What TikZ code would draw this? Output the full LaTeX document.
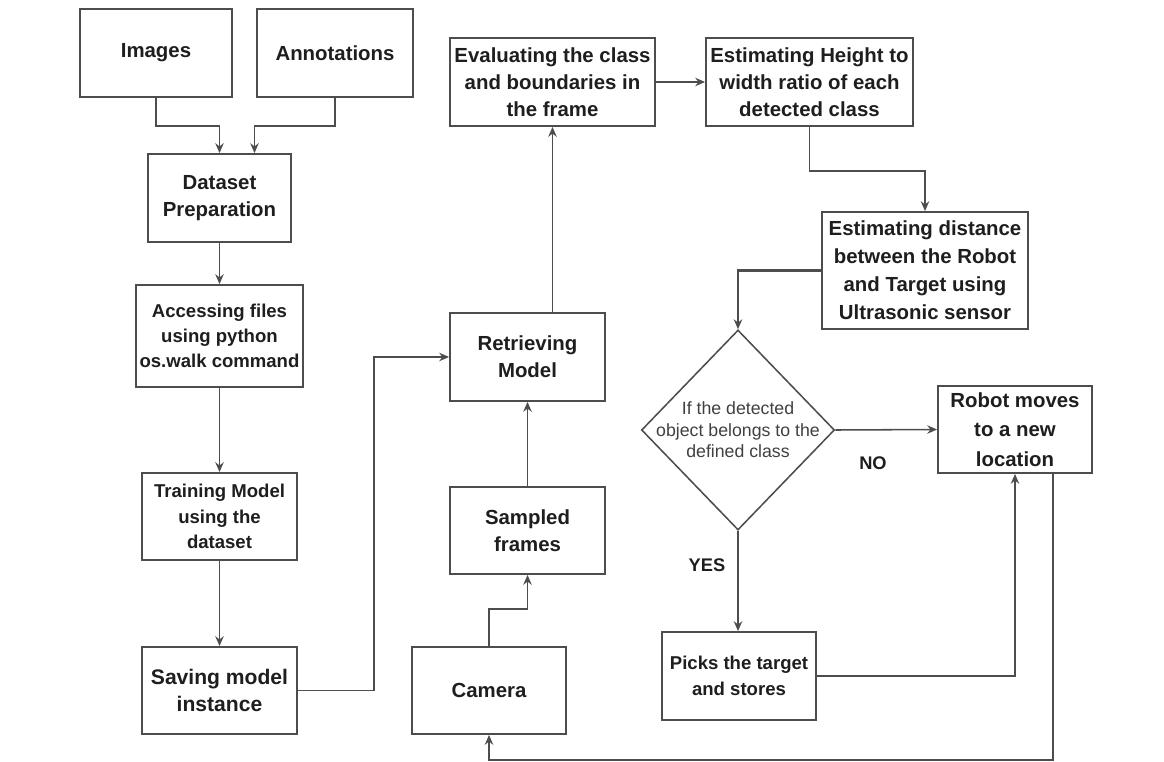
\documentclass[tikz,border=0pt]{standalone}
\usepackage{fontspec}
\setmainfont{Liberation Sans}
\usetikzlibrary{arrows.meta,calc,shapes.geometric}
\definecolor{linegray}{HTML}{4D4D4D}
\definecolor{textgray}{HTML}{1E1E1E}
\tikzset{
	stepbox/.style={draw=linegray, line width=1.3pt, fill=white, inner sep=0pt, align=center, text=textgray, font=\bfseries\fontsize{14.5}{19}\selectfont},
	smallbox/.style={stepbox, font=\bfseries\fontsize{13.2}{18}\selectfont},
	decide/.style={diamond, draw=linegray, line width=1.1pt, inner sep=0pt, minimum width=4.825cm, minimum height=5cm},
	decidetext/.style={align=center, text=black!75, font=\fontsize{12.6}{15.4}\selectfont},
	flow/.style={draw=linegray, line width=1.1pt, -{Stealth[length=7pt,width=6pt]}},
	heavyflow/.style={flow, line width=1.8pt},
	answer/.style={text=textgray, font=\bfseries\fontsize{13}{15}\selectfont}
}

\begin{document}
\begin{tikzpicture}[x=0.025cm, y=-0.025cm]
		%%%%% START %%%%%
		\useasboundingbox (0, 0) rectangle (1164, 762);
		
		% training side
		\node[stepbox, minimum width=3.8cm, minimum height=2.2cm] (img) at (156, 53) {Images};
		\node[stepbox, minimum width=3.9cm, minimum height=2.2cm] (ann) at (335, 53) {Annotations};
		\node[stepbox, minimum width=3.575cm, minimum height=2.2cm] (dsp) at (219.5, 198) {Dataset\\Preparation};
		\node[smallbox, minimum width=4.175cm, minimum height=2.55cm] (acc) at (219.5, 336) {Accessing files\\using python\\os.walk command};
		\node[smallbox, minimum width=3.875cm, minimum height=2.175cm] (trn) at (219.5, 516.5) {Training Model\\using the\\dataset};
		\node[stepbox, font=\bfseries\fontsize{15}{19}\selectfont, minimum width=3.875cm, minimum height=2.175cm] (sav) at (219.5, 690.5) {Saving model\\instance};
		
		% detection side
		\node[stepbox, minimum width=3.875cm, minimum height=2.2cm] (ret) at (527.5, 357) {Retrieving\\Model};
		\node[stepbox, minimum width=3.875cm, minimum height=2.175cm] (smp) at (527.5, 530.5) {Sampled\\frames};
		\node[stepbox, minimum width=3.85cm, minimum height=2.175cm] (cam) at (489, 690.5) {Camera};
		\node[stepbox, minimum width=5.125cm, minimum height=2.2cm] (evl) at (552.5, 82) {Evaluating the class\\and boundaries in\\the frame};
		\node[stepbox, minimum width=5.175cm, minimum height=2.2cm] (hgt) at (809.5, 82) {Estimating Height to\\width ratio of each\\detected class};
		\node[stepbox, font=\bfseries\fontsize{14.5}{20}\selectfont, minimum width=5.15cm, minimum height=2.925cm] (dst) at (925, 270.5) {Estimating distance\\between the Robot\\and Target using\\Ultrasonic sensor};
		
		% decision
		\node[decide] (dia) at (738, 430) {};
		\node[decidetext] (diatext) at (dia.center) {If the detected\\object belongs to the\\defined class};
		\node[stepbox, font=\bfseries\fontsize{14.5}{21}\selectfont, minimum width=3.85cm, minimum height=2.175cm] (rob) at (1015, 429.5) {Robot moves\\to a new\\location};
		\node[smallbox, minimum width=3.85cm, minimum height=2.2cm] (pck) at (739, 676) {Picks the target\\and stores};
		\node[answer] (no) at (873, 463) {NO};
		\node[answer] (yes) at (707, 565) {YES};
		
		% connectors
		\draw[flow] (img.south) -- ++(0, 28) -| (dsp.north);
		\draw[flow] (ann.south) -- ++(0, 28) -| ($(dsp.north)+(35, 0)$);
		\draw[flow] (dsp) -- (acc);
		\draw[flow] (acc) -- (trn);
		\draw[flow] (trn) -- (sav);
		\draw[flow] (sav.east) -- ++(76, 0) |- (ret.west);
		\draw[flow] (cam.north) -- ++(0, -37) -| (smp.south);
		\draw[flow] (smp) -- (ret);
		\draw[flow] (ret.north -| evl.south) -- (evl.south);
		\draw[flow] (evl) -- (hgt);
		\draw[flow] (hgt.south) -- ++(0, 44) -| (dst.north);
		\draw[heavyflow] (dst.west) -| (dia.north);
		\draw[flow] (dia.east) -- (rob.west);
		\draw[heavyflow] (dia.south) -- (dia.south |- pck.north);
		\draw[flow] (pck.east) -| (rob.south);
		\draw[flow] ($(rob.south)+(38, 0)$) -- ++(0, 286) -| (cam.south);
		%%%%% END %%%%%
	\end{tikzpicture}
\end{document}
